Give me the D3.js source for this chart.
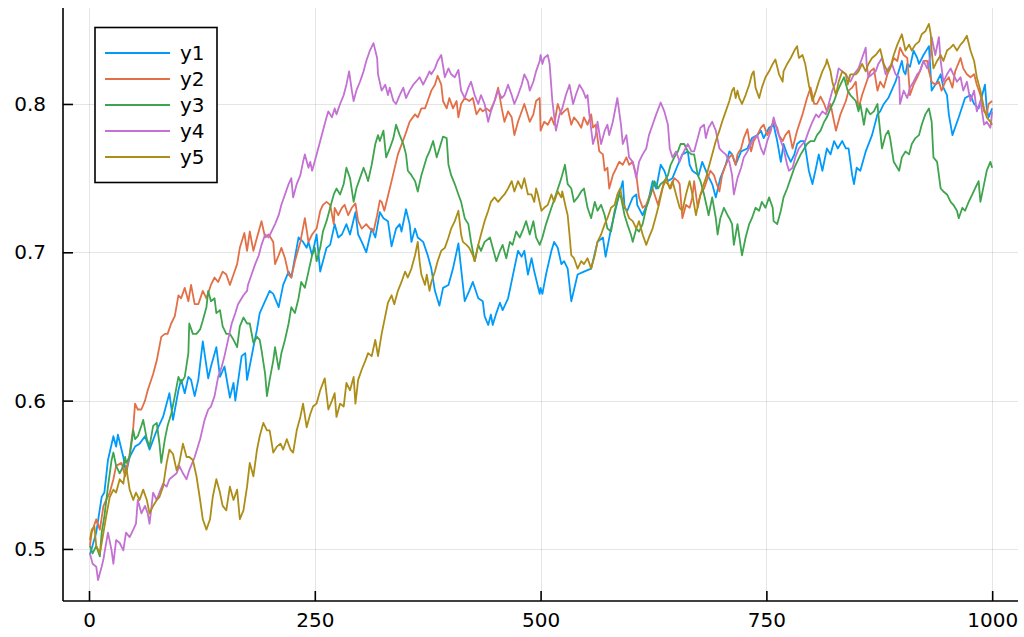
<!DOCTYPE html>
<html>
<head>
<meta charset="utf-8">
<script src="https://cdn.jsdelivr.net/npm/d3@7"></script>
<style>
  html, body { margin: 0; padding: 0; background: #fff; }
  svg { display: block; font-family: "DejaVu Sans", sans-serif; }
</style>
</head>
<body>
<svg id="chart" width="1024" height="637"></svg>
<script>
// Five random-walk style series, sampled as [step, value] pairs.
const seriesNames = ["y1", "y2", "y3", "y4", "y5"];
const seriesColors = ["#009AFA", "#E36F47", "#3EA44E", "#C371D2", "#AC8D18"];
const xTicks = [0, 250, 500, 750, 1000];
const yTicks = [0.5, 0.6, 0.7, 0.8];

const y1 = [[1,0.496],[8,0.511],[14,0.535],[17,0.538],[21,0.560],[27,0.576],[30,0.569],[32,0.577],[38,0.562],[41,0.551],[45,0.562],[51,0.569],[56,0.571],[62,0.576],[67,0.567],[75,0.580],[82,0.589],[89,0.605],[93,0.587],[99,0.607],[102,0.614],[106,0.605],[110,0.616],[113,0.614],[117,0.603],[121,0.614],[126,0.640],[132,0.615],[135,0.623],[141,0.636],[145,0.616],[150,0.623],[156,0.602],[160,0.612],[162,0.600],[169,0.630],[173,0.632],[175,0.614],[182,0.636],[186,0.648],[189,0.659],[200,0.674],[204,0.672],[210,0.663],[215,0.678],[221,0.687],[224,0.683],[232,0.710],[237,0.707],[241,0.703],[243,0.707],[247,0.698],[252,0.712],[256,0.687],[263,0.703],[267,0.705],[272,0.719],[276,0.710],[280,0.712],[285,0.719],[289,0.712],[295,0.727],[298,0.712],[302,0.707],[307,0.700],[313,0.716],[317,0.710],[322,0.727],[326,0.723],[331,0.721],[335,0.704],[340,0.716],[344,0.719],[346,0.714],[351,0.729],[355,0.719],[357,0.707],[361,0.716],[364,0.710],[370,0.707],[375,0.698],[379,0.689],[383,0.674],[388,0.664],[392,0.676],[398,0.678],[403,0.689],[409,0.706],[412,0.689],[416,0.667],[421,0.674],[425,0.680],[431,0.669],[436,0.667],[438,0.657],[442,0.651],[445,0.658],[447,0.651],[451,0.659],[455,0.666],[458,0.661],[464,0.669],[475,0.701],[479,0.697],[482,0.701],[486,0.685],[490,0.696],[493,0.687],[499,0.672],[500,0.676],[502,0.672],[506,0.685],[512,0.701],[515,0.707],[519,0.703],[523,0.692],[526,0.694],[530,0.689],[534,0.667],[541,0.685],[548,0.687],[556,0.689],[563,0.707],[569,0.710],[572,0.697],[578,0.716],[585,0.734],[591,0.748],[593,0.730],[596,0.728],[602,0.737],[606,0.739],[607,0.732],[613,0.725],[619,0.734],[624,0.748],[628,0.743],[633,0.759],[637,0.755],[641,0.748],[646,0.750],[652,0.759],[657,0.766],[663,0.768],[665,0.759],[668,0.755],[675,0.752],[679,0.761],[685,0.752],[690,0.746],[694,0.737],[699,0.750],[705,0.759],[709,0.768],[712,0.766],[716,0.759],[722,0.768],[729,0.770],[734,0.777],[740,0.779],[744,0.782],[747,0.777],[753,0.784],[758,0.786],[762,0.775],[766,0.761],[769,0.773],[773,0.766],[777,0.761],[781,0.766],[784,0.773],[788,0.775],[792,0.775],[797,0.755],[801,0.746],[805,0.757],[808,0.766],[812,0.755],[817,0.770],[821,0.766],[825,0.775],[829,0.770],[834,0.775],[838,0.770],[841,0.770],[845,0.752],[847,0.746],[850,0.757],[854,0.755],[860,0.768],[867,0.779],[873,0.793],[876,0.795],[880,0.800],[885,0.804],[893,0.815],[900,0.829],[902,0.822],[904,0.820],[906,0.827],[909,0.825],[913,0.836],[917,0.831],[919,0.827],[924,0.833],[930,0.839],[933,0.809],[939,0.815],[943,0.820],[946,0.811],[950,0.806],[952,0.793],[956,0.779],[963,0.791],[970,0.804],[976,0.806],[980,0.800],[985,0.797],[989,0.806],[992,0.813],[994,0.797],[996,0.791],[1000,0.797]];

const y2 = [[1,0.502],[3,0.511],[8,0.520],[12,0.513],[16,0.529],[19,0.533],[23,0.538],[27,0.547],[30,0.556],[36,0.558],[40,0.549],[45,0.564],[49,0.582],[51,0.598],[54,0.594],[58,0.594],[62,0.600],[65,0.607],[71,0.618],[75,0.627],[80,0.643],[84,0.645],[87,0.645],[91,0.652],[95,0.657],[99,0.671],[102,0.669],[106,0.676],[110,0.667],[113,0.678],[117,0.665],[121,0.665],[126,0.674],[130,0.669],[135,0.678],[139,0.683],[143,0.680],[148,0.687],[152,0.685],[156,0.678],[160,0.685],[164,0.692],[167,0.703],[172,0.713],[175,0.701],[178,0.714],[182,0.701],[186,0.710],[191,0.721],[195,0.710],[199,0.712],[204,0.707],[206,0.692],[210,0.698],[213,0.703],[217,0.696],[221,0.685],[224,0.683],[228,0.694],[234,0.707],[239,0.723],[243,0.707],[247,0.712],[252,0.716],[256,0.728],[259,0.732],[263,0.734],[267,0.732],[271,0.719],[272,0.730],[276,0.725],[280,0.730],[283,0.732],[287,0.725],[291,0.730],[295,0.733],[298,0.721],[302,0.716],[307,0.719],[311,0.716],[315,0.714],[319,0.725],[322,0.735],[324,0.734],[327,0.728],[335,0.748],[342,0.766],[350,0.779],[355,0.788],[361,0.793],[364,0.791],[368,0.797],[372,0.797],[375,0.802],[379,0.809],[383,0.813],[386,0.819],[390,0.813],[392,0.802],[396,0.797],[399,0.804],[403,0.797],[407,0.802],[409,0.791],[412,0.800],[416,0.804],[421,0.802],[425,0.804],[429,0.793],[433,0.797],[436,0.795],[440,0.797],[444,0.795],[449,0.802],[453,0.811],[457,0.797],[460,0.788],[464,0.795],[468,0.791],[471,0.779],[475,0.788],[482,0.800],[488,0.788],[492,0.793],[495,0.802],[499,0.804],[500,0.782],[504,0.788],[508,0.786],[512,0.791],[515,0.786],[519,0.800],[523,0.793],[526,0.795],[530,0.797],[534,0.786],[537,0.791],[541,0.788],[545,0.784],[548,0.791],[552,0.786],[556,0.793],[558,0.784],[561,0.786],[565,0.768],[569,0.766],[571,0.755],[574,0.757],[576,0.743],[580,0.752],[584,0.757],[587,0.761],[591,0.759],[595,0.764],[598,0.759],[602,0.761],[606,0.752],[609,0.737],[613,0.730],[617,0.732],[620,0.737],[624,0.743],[630,0.732],[633,0.739],[637,0.748],[641,0.746],[644,0.743],[648,0.750],[652,0.748],[654,0.746],[657,0.723],[661,0.732],[665,0.730],[668,0.737],[670,0.748],[674,0.730],[677,0.739],[681,0.743],[685,0.750],[688,0.755],[692,0.752],[694,0.748],[698,0.741],[701,0.752],[705,0.759],[709,0.764],[712,0.766],[716,0.759],[718,0.766],[722,0.770],[725,0.777],[729,0.783],[733,0.768],[736,0.775],[740,0.779],[744,0.784],[747,0.786],[751,0.779],[755,0.784],[758,0.788],[762,0.784],[764,0.779],[768,0.775],[771,0.779],[775,0.782],[779,0.770],[784,0.782],[790,0.793],[795,0.804],[799,0.811],[803,0.800],[806,0.800],[810,0.805],[814,0.800],[817,0.795],[821,0.800],[827,0.782],[832,0.793],[838,0.802],[841,0.809],[845,0.811],[849,0.815],[852,0.797],[856,0.806],[861,0.815],[865,0.822],[869,0.824],[873,0.809],[876,0.815],[880,0.811],[884,0.820],[887,0.824],[891,0.831],[895,0.829],[898,0.838],[902,0.833],[906,0.831],[909,0.806],[913,0.813],[917,0.818],[920,0.822],[924,0.829],[928,0.829],[930,0.822],[933,0.815],[937,0.813],[941,0.815],[944,0.809],[948,0.815],[952,0.818],[956,0.811],[959,0.822],[965,0.831],[968,0.824],[972,0.820],[976,0.818],[980,0.820],[983,0.813],[987,0.806],[991,0.795],[994,0.793],[996,0.800],[1000,0.802]];

const y3 = [[1,0.502],[4,0.497],[8,0.502],[12,0.495],[14,0.511],[17,0.522],[21,0.542],[25,0.560],[27,0.565],[30,0.556],[34,0.551],[38,0.556],[40,0.562],[41,0.558],[45,0.562],[49,0.580],[51,0.574],[54,0.576],[58,0.583],[60,0.587],[64,0.574],[67,0.569],[71,0.583],[75,0.585],[78,0.571],[80,0.558],[84,0.574],[87,0.583],[91,0.591],[95,0.603],[99,0.616],[102,0.612],[106,0.616],[110,0.632],[111,0.652],[115,0.645],[119,0.645],[123,0.648],[126,0.654],[130,0.663],[132,0.674],[135,0.667],[139,0.669],[141,0.659],[145,0.661],[148,0.650],[152,0.645],[156,0.645],[160,0.641],[164,0.636],[167,0.650],[171,0.656],[175,0.652],[178,0.652],[182,0.639],[186,0.643],[189,0.641],[191,0.634],[195,0.618],[197,0.603],[200,0.614],[204,0.627],[206,0.636],[210,0.621],[213,0.632],[217,0.641],[221,0.652],[224,0.663],[228,0.659],[232,0.669],[235,0.680],[239,0.676],[243,0.687],[247,0.698],[250,0.703],[252,0.694],[256,0.703],[259,0.714],[263,0.721],[267,0.730],[271,0.739],[274,0.743],[278,0.739],[282,0.746],[285,0.757],[289,0.750],[293,0.734],[296,0.743],[300,0.750],[304,0.757],[307,0.752],[309,0.748],[313,0.759],[317,0.773],[320,0.779],[322,0.775],[326,0.782],[329,0.764],[333,0.770],[337,0.777],[340,0.786],[344,0.779],[348,0.773],[351,0.766],[353,0.755],[357,0.752],[361,0.748],[364,0.741],[368,0.752],[374,0.764],[377,0.768],[381,0.775],[385,0.764],[388,0.770],[392,0.778],[396,0.777],[398,0.759],[401,0.752],[405,0.746],[409,0.739],[412,0.734],[416,0.723],[420,0.719],[423,0.707],[427,0.694],[431,0.705],[434,0.701],[438,0.707],[444,0.710],[447,0.703],[451,0.694],[455,0.701],[458,0.705],[462,0.696],[466,0.707],[469,0.705],[473,0.714],[477,0.710],[481,0.716],[484,0.721],[488,0.712],[492,0.721],[495,0.710],[499,0.705],[502,0.710],[506,0.719],[512,0.730],[517,0.739],[523,0.750],[527,0.759],[530,0.746],[534,0.743],[537,0.734],[541,0.737],[545,0.741],[548,0.743],[552,0.730],[556,0.723],[560,0.734],[563,0.728],[567,0.732],[571,0.725],[574,0.716],[578,0.714],[582,0.728],[587,0.739],[589,0.737],[593,0.725],[596,0.719],[600,0.712],[602,0.707],[606,0.716],[609,0.714],[613,0.719],[617,0.730],[622,0.739],[626,0.748],[630,0.743],[633,0.746],[637,0.748],[641,0.752],[644,0.759],[648,0.764],[652,0.768],[655,0.773],[659,0.773],[663,0.768],[667,0.766],[670,0.766],[674,0.752],[677,0.748],[681,0.739],[685,0.728],[686,0.725],[690,0.737],[694,0.723],[696,0.712],[699,0.723],[703,0.730],[707,0.725],[709,0.723],[712,0.719],[714,0.705],[718,0.719],[723,0.698],[727,0.710],[731,0.719],[734,0.723],[738,0.730],[742,0.728],[745,0.734],[749,0.730],[753,0.737],[757,0.730],[758,0.721],[762,0.719],[766,0.728],[769,0.737],[773,0.743],[777,0.750],[781,0.757],[784,0.761],[788,0.766],[792,0.770],[795,0.773],[799,0.775],[803,0.775],[806,0.779],[810,0.782],[814,0.788],[817,0.791],[821,0.797],[825,0.802],[829,0.809],[832,0.813],[836,0.818],[840,0.809],[843,0.806],[849,0.802],[852,0.795],[854,0.800],[858,0.786],[861,0.797],[865,0.793],[869,0.795],[873,0.800],[874,0.793],[878,0.770],[882,0.779],[885,0.782],[887,0.777],[891,0.761],[895,0.757],[897,0.755],[900,0.764],[904,0.768],[908,0.766],[911,0.773],[915,0.777],[919,0.779],[922,0.786],[926,0.793],[930,0.797],[933,0.788],[935,0.764],[939,0.761],[943,0.743],[946,0.741],[950,0.739],[954,0.734],[957,0.732],[961,0.728],[963,0.723],[967,0.730],[970,0.728],[974,0.734],[978,0.739],[981,0.743],[985,0.748],[987,0.734],[991,0.746],[994,0.755],[998,0.761],[1000,0.757]];

const y4 = [[1,0.497],[4,0.490],[8,0.488],[10,0.479],[14,0.488],[16,0.493],[17,0.497],[21,0.511],[25,0.499],[27,0.490],[30,0.506],[34,0.504],[38,0.499],[41,0.511],[45,0.508],[49,0.513],[52,0.517],[54,0.533],[58,0.524],[62,0.529],[65,0.524],[67,0.517],[71,0.538],[75,0.533],[78,0.538],[82,0.544],[86,0.542],[89,0.547],[93,0.549],[97,0.551],[100,0.556],[104,0.551],[108,0.547],[111,0.553],[117,0.562],[123,0.574],[128,0.587],[132,0.594],[135,0.596],[139,0.603],[143,0.616],[147,0.623],[150,0.630],[158,0.652],[162,0.659],[165,0.665],[171,0.671],[175,0.674],[176,0.678],[180,0.685],[184,0.692],[188,0.698],[191,0.705],[195,0.712],[199,0.710],[202,0.714],[206,0.719],[210,0.725],[213,0.732],[217,0.739],[221,0.746],[224,0.750],[226,0.737],[230,0.746],[234,0.752],[237,0.761],[239,0.766],[243,0.757],[245,0.761],[247,0.755],[248,0.757],[252,0.766],[256,0.775],[259,0.782],[263,0.791],[265,0.795],[269,0.791],[272,0.797],[274,0.793],[278,0.800],[282,0.806],[285,0.813],[288,0.822],[291,0.809],[293,0.802],[296,0.809],[300,0.815],[304,0.822],[307,0.829],[311,0.836],[315,0.841],[319,0.831],[320,0.820],[324,0.809],[328,0.813],[331,0.806],[333,0.811],[337,0.802],[340,0.800],[344,0.806],[348,0.811],[351,0.804],[355,0.809],[359,0.813],[362,0.815],[366,0.818],[370,0.813],[374,0.818],[377,0.822],[379,0.820],[383,0.824],[386,0.829],[390,0.833],[394,0.818],[398,0.824],[401,0.820],[405,0.818],[409,0.823],[412,0.809],[416,0.804],[420,0.811],[423,0.815],[427,0.806],[431,0.800],[434,0.806],[438,0.800],[442,0.788],[445,0.795],[449,0.802],[453,0.809],[457,0.804],[460,0.806],[464,0.813],[468,0.806],[471,0.800],[475,0.806],[479,0.813],[482,0.820],[486,0.815],[488,0.809],[492,0.815],[495,0.822],[499,0.829],[500,0.833],[502,0.827],[504,0.831],[508,0.833],[510,0.827],[513,0.802],[517,0.782],[521,0.793],[524,0.797],[528,0.806],[532,0.813],[536,0.800],[539,0.806],[543,0.813],[547,0.809],[550,0.804],[552,0.806],[554,0.793],[558,0.773],[561,0.779],[563,0.788],[567,0.773],[571,0.782],[574,0.786],[576,0.779],[580,0.788],[585,0.804],[589,0.786],[591,0.773],[595,0.779],[598,0.764],[602,0.761],[606,0.750],[609,0.761],[613,0.766],[617,0.770],[620,0.779],[624,0.786],[628,0.793],[633,0.801],[637,0.795],[641,0.786],[643,0.770],[646,0.764],[650,0.768],[654,0.761],[657,0.766],[663,0.773],[667,0.768],[670,0.768],[674,0.777],[677,0.784],[681,0.786],[683,0.777],[686,0.784],[690,0.788],[694,0.782],[698,0.770],[701,0.768],[705,0.766],[709,0.761],[712,0.752],[714,0.739],[718,0.750],[722,0.757],[725,0.764],[729,0.768],[733,0.773],[736,0.777],[740,0.779],[744,0.770],[747,0.766],[751,0.775],[755,0.782],[758,0.791],[762,0.782],[766,0.775],[769,0.770],[773,0.759],[775,0.755],[779,0.757],[782,0.764],[786,0.770],[790,0.773],[793,0.775],[797,0.782],[801,0.788],[805,0.793],[808,0.791],[812,0.795],[816,0.793],[819,0.800],[823,0.809],[827,0.815],[830,0.824],[834,0.822],[838,0.820],[840,0.818],[843,0.815],[847,0.820],[852,0.824],[856,0.831],[860,0.838],[861,0.827],[863,0.818],[867,0.820],[871,0.822],[874,0.827],[878,0.831],[882,0.820],[885,0.824],[889,0.827],[893,0.820],[897,0.818],[898,0.800],[902,0.809],[906,0.804],[909,0.811],[913,0.815],[917,0.820],[920,0.822],[924,0.829],[928,0.824],[932,0.833],[933,0.845],[937,0.833],[941,0.845],[943,0.829],[946,0.815],[950,0.820],[954,0.824],[957,0.820],[961,0.815],[965,0.818],[968,0.809],[972,0.815],[976,0.802],[980,0.809],[983,0.795],[987,0.802],[991,0.786],[994,0.788],[998,0.784],[1000,0.795]];

const y5 = [[1,0.506],[3,0.513],[6,0.515],[8,0.502],[12,0.497],[16,0.511],[19,0.522],[23,0.535],[27,0.540],[30,0.538],[34,0.547],[38,0.544],[41,0.556],[45,0.540],[49,0.533],[52,0.538],[56,0.533],[60,0.540],[64,0.533],[67,0.524],[71,0.529],[75,0.533],[78,0.535],[82,0.542],[86,0.558],[89,0.567],[93,0.564],[97,0.553],[100,0.558],[104,0.571],[108,0.562],[111,0.562],[115,0.560],[119,0.549],[123,0.533],[126,0.520],[130,0.513],[134,0.520],[137,0.535],[141,0.547],[145,0.538],[148,0.529],[152,0.526],[156,0.542],[160,0.533],[164,0.540],[167,0.520],[171,0.526],[175,0.542],[178,0.558],[182,0.549],[186,0.567],[189,0.576],[193,0.585],[197,0.580],[200,0.580],[204,0.565],[208,0.569],[212,0.571],[215,0.567],[219,0.574],[223,0.567],[226,0.565],[230,0.580],[234,0.589],[237,0.598],[241,0.582],[245,0.591],[248,0.596],[252,0.598],[256,0.607],[261,0.615],[265,0.594],[269,0.600],[272,0.605],[274,0.589],[278,0.598],[282,0.596],[285,0.612],[289,0.607],[293,0.616],[295,0.598],[298,0.614],[302,0.621],[306,0.627],[309,0.632],[313,0.630],[317,0.641],[320,0.630],[324,0.645],[328,0.657],[331,0.666],[335,0.671],[338,0.665],[342,0.674],[346,0.680],[350,0.687],[353,0.683],[357,0.689],[361,0.698],[364,0.707],[366,0.694],[368,0.685],[372,0.678],[374,0.685],[377,0.674],[379,0.680],[383,0.687],[386,0.694],[390,0.701],[394,0.703],[398,0.710],[401,0.716],[405,0.721],[409,0.728],[412,0.712],[414,0.707],[418,0.705],[421,0.703],[425,0.698],[427,0.694],[431,0.705],[434,0.712],[438,0.721],[442,0.728],[445,0.734],[449,0.737],[453,0.734],[457,0.737],[460,0.739],[464,0.743],[468,0.748],[471,0.741],[475,0.748],[479,0.743],[482,0.750],[486,0.739],[490,0.739],[493,0.734],[495,0.743],[497,0.739],[501,0.728],[504,0.730],[508,0.732],[512,0.739],[515,0.734],[519,0.741],[523,0.737],[524,0.741],[528,0.730],[530,0.725],[532,0.712],[534,0.698],[537,0.696],[541,0.689],[545,0.694],[548,0.692],[552,0.696],[556,0.689],[560,0.698],[563,0.707],[567,0.712],[571,0.719],[574,0.723],[578,0.730],[582,0.732],[585,0.739],[588,0.743],[591,0.734],[595,0.728],[598,0.723],[602,0.721],[606,0.716],[609,0.721],[613,0.712],[617,0.705],[620,0.710],[624,0.716],[628,0.725],[631,0.732],[635,0.743],[639,0.750],[643,0.743],[646,0.748],[650,0.739],[654,0.730],[657,0.728],[661,0.739],[665,0.748],[668,0.739],[672,0.725],[675,0.734],[679,0.743],[683,0.750],[686,0.757],[690,0.766],[694,0.775],[698,0.782],[701,0.788],[705,0.795],[709,0.802],[712,0.809],[714,0.811],[716,0.804],[718,0.809],[720,0.804],[723,0.800],[727,0.806],[731,0.813],[734,0.820],[736,0.822],[738,0.811],[742,0.804],[745,0.811],[749,0.818],[753,0.822],[757,0.827],[760,0.830],[764,0.820],[768,0.815],[769,0.822],[773,0.827],[777,0.831],[781,0.836],[784,0.839],[786,0.831],[790,0.833],[793,0.827],[797,0.813],[801,0.802],[805,0.809],[808,0.815],[812,0.822],[816,0.827],[817,0.830],[821,0.822],[823,0.815],[827,0.806],[830,0.815],[834,0.822],[838,0.820],[840,0.813],[843,0.820],[849,0.820],[852,0.822],[856,0.827],[860,0.822],[863,0.827],[867,0.831],[871,0.833],[876,0.837],[880,0.827],[884,0.822],[887,0.824],[891,0.833],[895,0.840],[900,0.847],[904,0.836],[908,0.840],[911,0.836],[915,0.840],[919,0.842],[922,0.847],[926,0.849],[930,0.854],[932,0.847],[933,0.836],[935,0.824],[939,0.829],[943,0.833],[946,0.829],[950,0.836],[954,0.838],[957,0.840],[961,0.836],[965,0.840],[968,0.842],[972,0.846],[976,0.836],[980,0.829],[983,0.818],[987,0.809],[991,0.797],[994,0.791],[998,0.788],[1000,0.786]];

const seriesData = [y1, y2, y3, y4, y5];

const svg = d3.select("#chart");
const W = 1024, H = 637;
const plot = { left: 63, right: 1018, top: 8, bottom: 601 };

const x = d3.scaleLinear().domain([-28.8, 1028.6]).range([plot.left, plot.right]);
const y = d3.scaleLinear().domain([0.4649, 0.8647]).range([plot.bottom, plot.top]);

svg.append("rect").attr("width", W).attr("height", H).attr("fill", "#fff");

// grid
const grid = svg.append("g").attr("stroke", "#000").attr("stroke-opacity", 0.1).attr("stroke-width", 1);
grid.selectAll("line.gx").data(xTicks).join("line")
  .attr("x1", d => Math.round(x(d)) + 0.5).attr("x2", d => Math.round(x(d)) + 0.5)
  .attr("y1", plot.top).attr("y2", plot.bottom);
grid.selectAll("line.gy").data(yTicks).join("line")
  .attr("y1", d => Math.round(y(d)) + 0.5).attr("y2", d => Math.round(y(d)) + 0.5)
  .attr("x1", plot.left).attr("x2", plot.right);

// axes: ticks point inward, only left and bottom spines are drawn
const xAxis = d3.axisBottom(x).tickValues(xTicks).tickSizeInner(-10).tickSizeOuter(0).tickPadding(12).tickFormat(d3.format("d"));
const yAxis = d3.axisLeft(y).tickValues(yTicks).tickSizeInner(-10).tickSizeOuter(0).tickPadding(17).tickFormat(d3.format(".1f"));

const gx = svg.append("g").attr("transform", `translate(0,${plot.bottom})`).call(xAxis);
const gy = svg.append("g").attr("transform", `translate(${plot.left},0)`).call(yAxis);
[gx, gy].forEach(g => {
  g.select(".domain").attr("stroke", "#000").attr("stroke-width", 1.6);
  g.selectAll(".tick line").attr("stroke", "#000").attr("stroke-width", 1.6);
  g.selectAll(".tick text").attr("fill", "#000").style("font-size", "20px").style("font-family", "DejaVu Sans, sans-serif");
});
gx.select(".domain").attr("d", `M${plot.left},0H${plot.right}`);
gy.select(".domain").attr("d", `M0,${plot.top}V${plot.bottom}`);

// series
svg.append("clipPath").attr("id", "plotclip").append("rect")
  .attr("x", plot.left).attr("y", plot.top).attr("width", plot.right - plot.left).attr("height", plot.bottom - plot.top);
const line = d3.line().x(d => x(d[0])).y(d => y(d[1]));
svg.append("g").attr("clip-path", "url(#plotclip)")
  .selectAll("path").data(seriesData).join("path")
  .attr("d", line).attr("fill", "none")
  .attr("stroke", (d, i) => seriesColors[i]).attr("stroke-width", 1.8)
  .attr("stroke-linejoin", "round");

// legend
const lg = svg.append("g");
lg.append("rect").attr("x", 95).attr("y", 27.5).attr("width", 122).attr("height", 155)
  .attr("fill", "#fff").attr("stroke", "#000").attr("stroke-width", 1.6);
const items = lg.selectAll("g.item").data(seriesNames).join("g")
  .attr("transform", (d, i) => `translate(0,${53 + i * 26})`);
items.append("line").attr("x1", 105).attr("x2", 170).attr("y1", 0).attr("y2", 0)
  .attr("stroke", (d, i) => seriesColors[i]).attr("stroke-width", 1.8);
items.append("text").attr("x", 180).attr("y", 0).attr("dy", "0.36em")
  .style("font-size", "20px").attr("fill", "#000").text(d => d);
</script>
</body>
</html>
